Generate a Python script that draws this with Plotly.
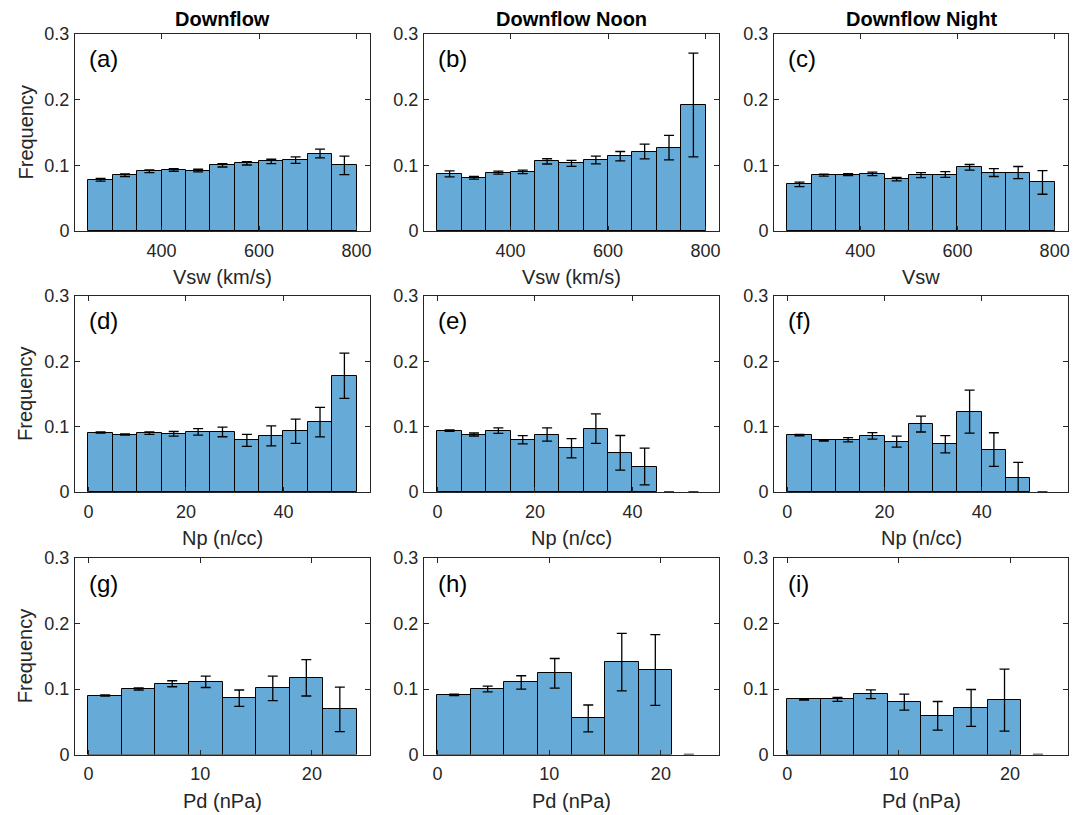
import plotly.graph_objects as go
from plotly.subplots import make_subplots

# ---------------- data ----------------
vsw_start, vsw_width, vsw_n = 250, 50, 11
np_start, np_width, np_n = 0, 5, 11
pd_start, pd_width, pd_n = 0, 3, 8

a_freq = [0.078, 0.085, 0.091, 0.093, 0.092, 0.100, 0.103, 0.106, 0.108, 0.118, 0.100]
a_err = [0.002, 0.002, 0.002, 0.002, 0.002, 0.0025, 0.0025, 0.0033, 0.005, 0.0066, 0.014]
b_freq = [0.087, 0.081, 0.089, 0.090, 0.106, 0.103, 0.108, 0.114, 0.121, 0.127, 0.192]
b_err = [0.0046, 0.002, 0.0023, 0.0026, 0.004, 0.0046, 0.0059, 0.0071, 0.0112, 0.0186, 0.079]
c_freq = [0.071, 0.085, 0.086, 0.087, 0.079, 0.085, 0.086, 0.097, 0.089, 0.089, 0.074]
c_err = [0.0033, 0.0015, 0.0015, 0.0026, 0.0026, 0.0038, 0.0043, 0.0043, 0.006, 0.0092, 0.018]
d_freq = [0.091, 0.088, 0.090, 0.089, 0.092, 0.092, 0.079, 0.086, 0.093, 0.107, 0.178]
d_err = [0.001, 0.001, 0.0018, 0.0036, 0.005, 0.0074, 0.0092, 0.0153, 0.0186, 0.0226, 0.0346]
e_freq = [0.094, 0.088, 0.094, 0.080, 0.088, 0.067, 0.097, 0.060, 0.039, 0.0, 0.0]
e_err = [0.001, 0.0023, 0.0043, 0.0064, 0.0102, 0.0148, 0.0226, 0.0265, 0.0282, 0.0, 0.0]
f_freq = [0.087, 0.079, 0.080, 0.086, 0.077, 0.104, 0.073, 0.123, 0.065, 0.022, 0.0]
f_err = [0.001, 0.001, 0.0033, 0.005, 0.0084, 0.0122, 0.0132, 0.0328, 0.0257, 0.0232, 0.0]
g_freq = [0.090, 0.100, 0.108, 0.111, 0.086, 0.101, 0.117, 0.069]
g_err = [0.001, 0.0015, 0.0046, 0.0087, 0.0125, 0.0186, 0.0277, 0.034]
h_freq = [0.091, 0.100, 0.110, 0.124, 0.055, 0.141, 0.129, 0.0]
h_err = [0.001, 0.0043, 0.0102, 0.0226, 0.0206, 0.0438, 0.054, 0.0]
i_freq = [0.084, 0.084, 0.092, 0.080, 0.059, 0.071, 0.083, 0.0]
i_err = [0.001, 0.003, 0.0066, 0.0122, 0.0219, 0.0282, 0.0473, 0.0]

col_titles = ["Downflow", "Downflow Noon", "Downflow Night"]
panel_tags = ["(a)", "(b)", "(c)", "(d)", "(e)", "(f)", "(g)", "(h)", "(i)"]
xlabels = ["Vsw (km/s)", "Vsw (km/s)", "Vsw",
           "Np (n/cc)", "Np (n/cc)", "Np (n/cc)",
           "Pd (nPa)", "Pd (nPa)", "Pd (nPa)"]
y_ticks = [0, 0.1, 0.2, 0.3]
y_label = "Frequency"
vsw_ticks = [400, 600, 800]
np_ticks = [0, 20, 40]
pd_ticks = [0, 10, 20]

# ---------------- figure ----------------
OFF = 8  # page body margin
W, H = 1083 - OFF, 815 - OFF
FONT = "Liberation Sans, Arial, Helvetica, sans-serif"
AXC = "rgb(38,38,38)"
BAR = "rgb(102,170,215)"


def px_x(p):
    return (p - OFF) / W


def px_y(p):
    return 1 - (p - OFF) / H


freqs = [a_freq, b_freq, c_freq, d_freq, e_freq, f_freq, g_freq, h_freq, i_freq]
errs = [a_err, b_err, c_err, d_err, e_err, f_err, g_err, h_err, i_err]
bins = [(vsw_start, vsw_width, vsw_n)] * 3 + [(np_start, np_width, np_n)] * 3 + [(pd_start, pd_width, pd_n)] * 3
xt = [vsw_ticks] * 3 + [np_ticks] * 3 + [pd_ticks] * 3

col_px = [(75, 370), (424, 719), (774, 1068)]
row_px = [(34, 231), (296, 492), (558, 754.5)]

fig = make_subplots(rows=3, cols=3)
annotations = []
for k in range(9):
    r, c = divmod(k, 3)
    start, width, n = bins[k]
    centers = [start + width * (j + 0.5) for j in range(n)]
    fig.add_trace(go.Bar(
        x=centers, y=freqs[k], width=[width] * n,
        marker=dict(color=BAR, line=dict(color="black",
                                         width=[1 if v > 0 else 0 for v in freqs[k]])),
        error_y=dict(type="data", array=errs[k], visible=True, color="black",
                     thickness=1.3, width=5),
        showlegend=False, hoverinfo="skip"), row=r + 1, col=c + 1)
    lo, hi = start, start + width * n
    pad = 0.05 * (hi - lo)
    x0, x1 = col_px[c]
    y0, y1 = row_px[r]
    axn = "" if k == 0 else str(k + 1)
    fig.layout["xaxis" + axn].update(
        domain=[px_x(x0), px_x(x1)], range=[lo - pad, hi + pad], automargin=False,
        tickvals=xt[k], ticks="inside", ticklen=5, tickcolor=AXC,
        ticklabelstandoff=3,
        showline=True, linecolor=AXC, linewidth=1, mirror="ticks",
        showgrid=False, zeroline=False,
        tickfont=dict(family=FONT, size=18, color=AXC))
    fig.layout["yaxis" + axn].update(
        domain=[px_y(y1), px_y(y0)], range=[0, 0.3], automargin=False,
        tickvals=y_ticks, ticktext=["0", "0.1", "0.2", "0.3"],
        ticks="inside", ticklen=5, tickcolor=AXC, ticklabelstandoff=1,
        showline=True, linecolor=AXC, linewidth=1, mirror="ticks",
        showgrid=False, zeroline=False,
        tickfont=dict(family=FONT, size=18, color=AXC))
    # panel tag
    annotations.append(dict(text=panel_tags[k], xref="paper", yref="paper",
                            x=px_x(x0 + 12), y=px_y(y0 + 25),
                            xanchor="left", yanchor="middle", showarrow=False,
                            font=dict(family=FONT, size=24, color="black")))
    # x label
    annotations.append(dict(text=xlabels[k], xref="paper", yref="paper",
                            x=px_x((x0 + x1) / 2), y=px_y(y1 + 46),
                            xanchor="center", yanchor="middle", showarrow=False,
                            font=dict(family=FONT, size=20, color=AXC)))
    if c == 0:
        annotations.append(dict(text=y_label, xref="paper", yref="paper",
                                x=px_x(25), y=px_y((y0 + y1) / 2), textangle=-90,
                                xanchor="center", yanchor="middle", showarrow=False,
                                font=dict(family=FONT, size=20, color=AXC)))
    if r == 0:
        annotations.append(dict(text="<b>" + col_titles[c] + "</b>", xref="paper", yref="paper",
                                x=px_x((x0 + x1) / 2), y=px_y(19),
                                xanchor="center", yanchor="middle", showarrow=False,
                                font=dict(family=FONT, size=20, color="black")))

fig.update_layout(width=W, height=H, margin=dict(l=0, r=0, t=0, b=0),
                  paper_bgcolor="white", plot_bgcolor="white",
                  bargap=0, annotations=annotations)
fig.write_html("out.html")
